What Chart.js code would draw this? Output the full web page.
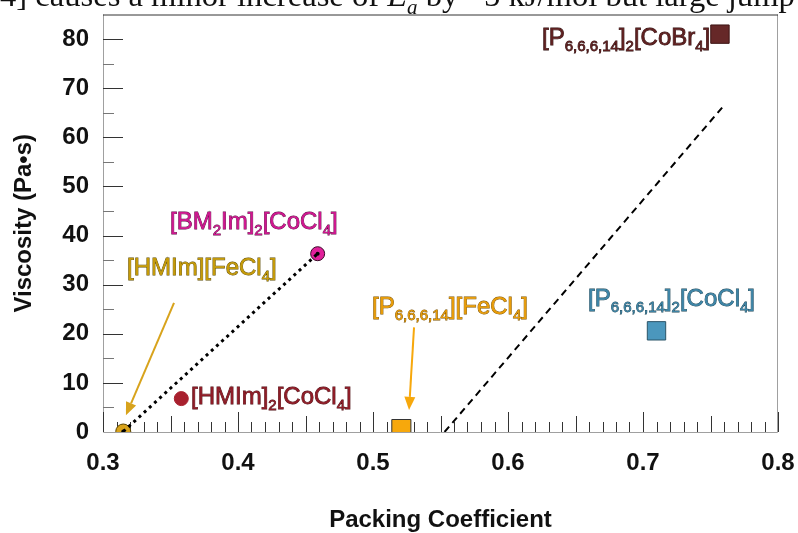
<!DOCTYPE html>
<html>
<head>
<meta charset="utf-8">
<script src="https://cdn.jsdelivr.net/npm/chart.js@4.4.1/dist/chart.umd.min.js"></script>
<style>
  html, body { margin: 0; padding: 0; background: #fff; }
  #wrap { position: relative; width: 798px; height: 533px; overflow: hidden; }
  #caption {
    position: absolute; left: -9px; top: -21px; white-space: nowrap; line-height: 32px;
    font-family: 'Liberation Serif', 'DejaVu Serif', serif; font-size: 32.6px; color: #111;
  }
  canvas { position: absolute; left: 0; top: 0; }
</style>
</head>
<body>
<div id="wrap">
  <canvas id="chart" width="798" height="533"></canvas>
  <div id="caption">l4] causes a minor increase of <i>E<sub style="font-size:21px;line-height:0">a</sub></i> by ~5 kJ/mol but large jump</div>
</div>
<script>
// ─── DATA ─────────────────────────────────────────────────────────
const compounds = [
  '[HMIm][FeCl_{4}]',
  '[HMIm]_{2}[CoCl_{4}]',
  '[BM_{2}Im]_{2}[CoCl_{4}]',
  '[P_{6,6,6,14}][FeCl_{4}]',
  '[P_{6,6,6,14}]_{2}[CoCl_{4}]',
  '[P_{6,6,6,14}]_{2}[CoBr_{4}]',
];
const packing   = [0.315, 0.358, 0.459, 0.521, 0.710, 0.757];
const viscosity = [0.1, 6.8, 36.3, 0.6, 20.6, 81.0];

// trend lines (endpoints)
const dottedX = [0.315, 0.459];
const dottedY = [0.1, 36.3];
const dashedX = [0.553, 0.760];
const dashedY = [0, 66.5];

const xTicks = [0.3, 0.4, 0.5, 0.6, 0.7, 0.8];
const yTicks = [0, 10, 20, 30, 40, 50, 60, 70, 80];

// ─── STYLE ────────────────────────────────────────────────────────
const marker = [
  { style: 'circle', r: 7.5, fill: '#d8a31c', edge: '#5c4600' },
  { style: 'circle', r: 7,  fill: '#a8202e', edge: '#a8202e' },
  { style: 'circle', r: 7,  fill: '#e0209a', edge: '#3a0a28' },
  { style: 'rect',   r: 13.5, fill: '#f7a80c', edge: '#333333' },
  { style: 'rect',   r: 13, fill: '#4b97bd', edge: '#2b5468' },
  { style: 'rect',   r: 13, fill: '#662828', edge: '#3d1414' },
];
// label anchor: left x, baseline y (data units)
const labelStyle = [
  { x: 0.3178, y: 32.0, color: '#c59a08', edge: '#5c4a00' },
  { x: 0.3652, y: 5.8,  color: '#8e1c27', edge: '#4a0c10' },
  { x: 0.3496, y: 41.4, color: '#cf168f', edge: '#5a0a40' },
  { x: 0.4993, y: 24.1, color: '#e89c08', edge: '#7a5000' },
  { x: 0.6593, y: 25.6, color: '#3d84a6', edge: '#1f4656' },
  { x: 0.6252, y: 78.8, color: '#5e2020', edge: '#2a0c0c' },
];
const arrows = [
  { from: [0.3526, 26.3], to: [0.3170, 3.4], color: '#d8a31c' },
  { from: [0.5304, 21.3], to: [0.5267, 4.5], color: '#f7a80c' },
];

const FONT = "'Liberation Sans', Arial, sans-serif";

function drawRich(ctx, text, x, y, color, edge) {
  const parts = text.split(/(_\{[^}]*\})/).filter(Boolean);
  let cx = x;
  parts.forEach(p => {
    const sub = p.startsWith('_{');
    const s = sub ? p.slice(2, -1) : p;
    ctx.font = sub ? `15px ${FONT}` : `24px ${FONT}`;
    const yy = sub ? y + 6 : y;
    ctx.lineWidth = 0.8;
    ctx.strokeStyle = edge;
    ctx.strokeText(s, cx, yy);
    ctx.fillStyle = color;
    ctx.fillText(s, cx, yy);
    cx += ctx.measureText(s).width;
  });
}

const decor = {
  id: 'decor',
  beforeDatasetsDraw(chart) {
    const { ctx, chartArea: a, scales: { x, y } } = chart;
    ctx.save();
    // frame
    ctx.lineWidth = 1;
    ctx.strokeStyle = '#a0a0a0';
    ctx.beginPath();
    ctx.moveTo(a.left + 0.5, a.top); ctx.lineTo(a.left + 0.5, a.bottom + 0.5);
    ctx.lineTo(a.right - 0.5, a.bottom + 0.5); ctx.lineTo(a.right - 0.5, a.top);
    ctx.stroke();
    ctx.strokeStyle = '#333';
    ctx.beginPath();
    ctx.moveTo(a.left, a.top + 0.5); ctx.lineTo(a.right, a.top + 0.5);
    ctx.stroke();
    // inward ticks on x
    ctx.strokeStyle = '#333';
    for (let i = 30; i <= 80; i++) {
      const px = Math.round(x.getPixelForValue(i / 100)) + 0.5;
      const len = i % 10 === 0 ? 20 : (i % 5 === 0 ? 16 : 10);
      ctx.beginPath();
      ctx.moveTo(px, a.bottom); ctx.lineTo(px, a.bottom - len);
      ctx.stroke();
    }
    // inward ticks on y
    for (let v = 5; v <= 80; v += 5) {
      const py = Math.round(y.getPixelForValue(v)) + 0.5;
      const len = v % 10 === 0 ? 20 : 11;
      ctx.strokeStyle = v % 10 === 0 ? '#333' : '#777';
      ctx.beginPath();
      ctx.moveTo(a.left, py); ctx.lineTo(a.left + len, py);
      ctx.stroke();
    }
    ctx.restore();
  },
  afterDatasetsDraw(chart) {
    const { ctx, scales: { x, y } } = chart;
    ctx.save();
    // arrows
    arrows.forEach(ar => {
      const x0 = x.getPixelForValue(ar.from[0]), y0 = y.getPixelForValue(ar.from[1]);
      const x1 = x.getPixelForValue(ar.to[0]), y1 = y.getPixelForValue(ar.to[1]);
      const ang = Math.atan2(y1 - y0, x1 - x0);
      const hl = 13, hw = 5.5;
      const bx = x1 - hl * Math.cos(ang), by = y1 - hl * Math.sin(ang);
      ctx.strokeStyle = ar.color; ctx.fillStyle = ar.color; ctx.lineWidth = 2;
      ctx.beginPath(); ctx.moveTo(x0, y0); ctx.lineTo(bx, by); ctx.stroke();
      ctx.beginPath();
      ctx.moveTo(x1, y1);
      ctx.lineTo(bx + hw * Math.sin(ang), by - hw * Math.cos(ang));
      ctx.lineTo(bx - hw * Math.sin(ang), by + hw * Math.cos(ang));
      ctx.closePath(); ctx.fill();
    });
    // labels
    ctx.textBaseline = 'alphabetic';
    ctx.textAlign = 'left';
    compounds.forEach((name, i) => {
      const l = labelStyle[i];
      drawRich(ctx, name, x.getPixelForValue(l.x), y.getPixelForValue(l.y), l.color, l.edge);
    });
    ctx.restore();
  }
};

const datasets = compounds.map((name, i) => ({
  label: name,
  data: [{ x: packing[i], y: viscosity[i] }],
  pointStyle: marker[i].style,
  pointRadius: marker[i].r,
  backgroundColor: marker[i].fill,
  borderColor: marker[i].edge,
  borderWidth: 1,
  order: 2,
}));
datasets.push({
  label: 'dotted',
  data: dottedX.map((v, i) => ({ x: v, y: dottedY[i] })),
  showLine: true,
  borderColor: '#000',
  borderWidth: 3,
  borderDash: [3, 4],
  pointRadius: 2,
  pointBackgroundColor: '#000',
  pointBorderWidth: 0,
  order: 1,
});
datasets.push({
  label: 'dashed',
  data: dashedX.map((v, i) => ({ x: v, y: dashedY[i] })),
  showLine: true,
  borderColor: '#000',
  borderWidth: 2,
  borderDash: [7, 5],
  pointRadius: 0,
  order: 1,
});

const noPad = s => { s.paddingTop = 0; s.paddingBottom = 0; s.paddingLeft = 0; s.paddingRight = 0; };

new Chart(document.getElementById('chart'), {
  type: 'scatter',
  data: { datasets },
  options: {
    responsive: false,
    animation: false,
    devicePixelRatio: 1,
    layout: { padding: { top: 12, right: 20, left: 0, bottom: 0 } },
    plugins: { legend: { display: false }, tooltip: { enabled: false } },
    scales: {
      x: {
        type: 'linear', min: 0.3, max: 0.8,
        afterFit: s => { s.height = 101; noPad(s); },
        afterBuildTicks: s => { s.ticks = xTicks.map(v => ({ value: v })); },
        grid: { display: false }, border: { display: false },
        ticks: { padding: 9, color: '#111', font: { family: FONT, size: 24, weight: 'bold' }, callback: v => v.toFixed(1) },
        title: { display: true, text: 'Packing Coefficient', color: '#111', padding: { top: 0, bottom: -2 },
                 font: { family: FONT, size: 24, weight: 'bold' } },
      },
      y: {
        type: 'linear', min: 0, max: 85,
        afterFit: s => { s.width = 103; noPad(s); },
        afterBuildTicks: s => { s.ticks = yTicks.map(v => ({ value: v })); },
        grid: { display: false }, border: { display: false },
        ticks: { padding: 6, color: '#111', font: { family: FONT, size: 24, weight: 'bold' } },
        title: { display: true, text: 'Viscosity (Pa•s)', color: '#111', padding: { top: 10, bottom: 0 },
                 font: { family: FONT, size: 24, weight: 'bold' } },
      },
    },
  },
  plugins: [decor],
});
</script>
</body>
</html>
